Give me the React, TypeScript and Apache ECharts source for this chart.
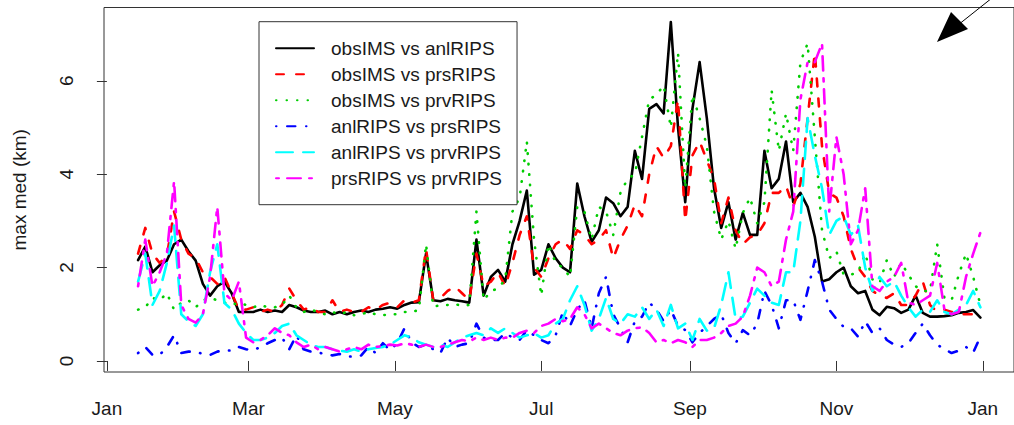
import React, { useEffect, useRef } from "react";
import * as echarts from "echarts";

// sampling days (day of year, 0 = Jan 1)
const days = [
  13, 16, 19, 22, 25, 28, 31, 34, 37, 40,
  43, 46, 49, 52, 55, 58, 61, 64, 67, 70,
  73, 76, 79, 82, 85, 88, 91, 94, 97, 100,
  103, 106, 109, 112, 115, 118, 121, 124, 127, 130,
  133, 136, 139, 142, 145, 148, 151, 154, 157, 160,
  163, 166, 169, 172, 175, 178, 181, 184, 187, 190,
  193, 196, 199, 202, 205, 208, 211, 214, 217, 220,
  223, 226, 229, 232, 235, 238, 241, 244, 247, 250,
  253, 256, 259, 262, 265, 268, 271, 274, 277, 280,
  283, 286, 289, 292, 295, 298, 301, 304, 307, 310,
  313, 316, 319, 322, 325, 328, 331, 334, 337, 340,
  343, 346, 349, 352, 355, 358, 361, 364,
];

const tickDays = [0, 59, 120, 181, 243, 304, 365];
const tickLabels = ["Jan", "Mar", "May", "Jul", "Sep", "Nov", "Jan"];
const yTicks = [0, 2, 4, 6];

const obsAnl = [
  2.16, 2.45, 1.9, 2.05, 2.15, 2.5, 2.6, 2.35, 2.15, 1.65,
  1.4, 1.6, 1.7, 1.45, 1.05, 1.05, 1.05, 1.1, 1.05, 1.08,
  1.05, 1.2, 1.15, 1.08, 1.05, 1.05, 1.08, 1.0, 1.05, 1.0,
  1.05, 1.08, 1.05, 1.1, 1.12, 1.15, 1.12, 1.2, 1.25, 1.26,
  2.3, 1.3, 1.28, 1.33, 1.3, 1.28, 1.25, 2.6, 1.4, 1.8,
  1.95, 1.7, 2.5, 3.0, 3.65, 1.85, 1.95, 2.5, 2.2, 2.0,
  1.9, 3.8, 3.1, 2.55, 2.8, 3.5, 3.38, 3.1, 3.3, 4.5,
  3.9, 5.4, 5.5, 5.3, 7.26, 5.0, 3.4, 5.4, 6.4, 5.2,
  3.7, 2.85, 3.4, 2.6, 3.17, 2.7, 2.7, 4.5, 3.7, 3.9,
  4.7, 3.4, 3.6, 3.3, 2.66, 1.7, 1.75, 1.9, 2.0, 1.6,
  1.45, 1.5, 1.1, 0.98, 1.16, 1.13, 1.03, 1.1, 1.4, 1.03,
  0.95, 0.95, 0.96, 0.98, 1.03, 1.05, 1.09, 0.93,
];

const obsPrs = [
  2.3, 2.85, 2.3, 2.1, 2.25, 3.2, 2.6, 2.3, 2.2, 1.9,
  1.8, 1.65, 1.8, 1.45, 1.1, 1.1, 1.15, 1.05, 1.1, 1.05,
  1.2, 1.55, 1.3, 1.1, 1.15, 1.05, 1.05, 1.3, 1.05, 1.1,
  1.05, 1.05, 1.15, 1.1, 1.2, 1.25, 1.15, 1.3, 1.25, 1.3,
  2.4, 1.3, 1.35, 1.5, 1.6, 1.45, 1.3, 2.3, 1.6, 1.7,
  1.9, 1.6, 2.1, 2.7, 3.1, 2.0, 1.8, 2.2, 2.5, 2.6,
  2.4, 2.8, 2.7, 2.5, 2.6, 2.8, 2.2, 2.6, 2.9, 3.35,
  3.1, 4.0, 4.6, 4.35, 4.6, 5.6, 3.0, 4.4, 4.7, 4.3,
  3.9, 2.95, 3.5, 2.8, 2.5, 2.65, 2.7, 2.95, 3.6, 3.6,
  3.75, 3.3, 3.8, 5.2, 6.6, 4.6, 3.6, 3.5, 3.1, 2.4,
  2.0, 1.8, 1.5, 1.4, 1.35, 1.45, 1.2, 1.2, 1.4, 1.7,
  1.2, 1.05, 1.1, 1.05, 1.0, 1.0, 1.0, 1.05,
];

const obsPrv = [
  1.1, 1.15, 1.35, 1.3, 1.45, 1.1, 1.25, 1.3, 1.15, 1.3,
  1.35, 1.3, 1.25, 1.2, 1.25, 1.2, 1.15, 1.2, 1.15, 1.15,
  1.2, 1.4, 1.15, 1.05, 1.1, 1.05, 1.0, 1.05, 1.0, 1.05,
  0.98, 1.0, 1.05, 1.0, 0.98, 1.0, 1.0, 1.05, 1.05, 1.09,
  2.5, 1.16, 1.2, 1.2, 1.22, 1.18, 1.2, 3.2, 1.3, 1.5,
  1.55, 1.75, 3.2, 3.5, 4.7, 2.6, 1.4, 2.5, 2.1, 2.0,
  1.8, 3.3, 3.2, 2.6, 3.3, 3.2, 2.7, 3.6, 3.9, 4.0,
  4.8, 5.6, 5.7, 5.9, 5.0, 6.6, 3.7, 5.7, 5.2, 4.6,
  3.2, 2.6, 3.0, 2.4, 3.17, 3.5, 2.95, 3.4, 5.8, 4.5,
  5.3, 4.5, 6.4, 6.8, 4.8, 2.8, 2.2, 2.35, 1.85, 1.85,
  1.9, 2.3, 1.75, 1.67, 2.16, 1.8, 2.1, 1.85, 1.6, 1.5,
  1.5, 2.5, 1.35, 1.3, 1.85, 2.3, 1.8, 1.2,
];

const anlPrs = [
  0.17, 0.3, 0.13, 0.13, 0.3, 0.55, 0.17, 0.2, 0.2, 0.15,
  0.13, 0.2, 0.23, 0.22, 0.3, 0.25, 0.23, 0.3, 0.38, 0.45,
  0.5, 0.25, 0.55, 0.25, 0.2, 0.18, 0.15, 0.12, 0.15, 0.1,
  0.09, 0.12, 0.3, 0.17, 0.38, 0.23, 0.38, 0.7, 0.4, 0.3,
  0.35, 0.25, 0.17, 0.5, 0.3, 0.35, 0.38, 0.8, 0.5, 0.45,
  0.45, 0.6, 0.5, 0.45, 0.66, 0.55, 0.45, 0.38, 0.55, 1.05,
  0.75, 1.1, 1.3, 0.7, 1.45, 1.8, 1.0, 0.7, 0.4, 0.85,
  0.95, 1.25, 1.1, 0.85, 1.1, 0.75, 0.66, 0.4, 0.6, 0.75,
  0.9, 1.0, 0.6, 0.38, 0.66, 0.55, 0.8, 1.5, 1.2, 0.7,
  1.3, 1.3, 0.88, 1.5, 2.16, 1.7, 1.1, 0.9, 0.73, 0.7,
  0.52, 0.85, 0.6, 0.7, 0.45, 0.35, 0.3, 0.38, 0.6, 0.8,
  0.55, 0.35, 0.25, 0.17, 0.22, 0.3, 0.18, 0.52,
];

const anlPrv = [
  1.7, 2.3, 1.2, 1.5, 2.1, 2.9, 1.0, 0.85, 0.75, 1.0,
  1.9, 2.5, 1.24, 1.1, 0.8, 0.6, 0.45, 0.45, 0.5, 0.6,
  0.75, 0.8, 0.55, 0.45, 0.35, 0.3, 0.3, 0.25, 0.22, 0.2,
  0.25, 0.2, 0.25, 0.28, 0.3, 0.35, 0.45, 0.55, 0.5, 0.4,
  0.35, 0.3, 0.35, 0.3, 0.4, 0.5, 0.55, 0.6, 0.55, 0.7,
  0.6, 0.7, 0.6, 0.5, 0.55, 0.6, 0.5, 0.55, 0.8, 0.9,
  1.3, 1.6, 1.2, 0.65, 0.9, 1.35, 0.9, 0.8, 1.0, 0.95,
  1.15, 0.9, 1.1, 0.75, 1.2, 0.7, 0.8, 0.45, 0.9, 0.65,
  0.7, 1.2, 1.9, 0.9, 0.95, 1.25, 1.55, 1.4, 1.25, 1.2,
  1.9, 1.9, 3.0, 5.2, 4.4, 3.7, 2.7, 3.0, 3.1, 2.7,
  2.9, 2.0, 1.5, 1.8, 1.6, 1.7, 1.4, 1.15, 0.95, 1.1,
  1.05, 1.3, 1.05, 1.0, 1.1, 1.2, 1.5, 1.15,
];

const prsPrv = [
  1.6, 2.6, 1.6, 1.9, 2.3, 3.85, 1.2, 0.9, 0.82, 1.0,
  1.8, 3.3, 1.45, 1.3, 1.7, 0.5, 0.4, 0.45, 0.55, 0.7,
  0.6, 0.55, 0.4, 0.3, 0.35, 0.25, 0.3, 0.25, 0.2, 0.25,
  0.3, 0.25, 0.35, 0.3, 0.32, 0.35, 0.33, 0.38, 0.35, 0.3,
  0.35, 0.3, 0.3, 0.35, 0.4, 0.45, 0.42, 0.5, 0.45, 0.5,
  0.45, 0.5, 0.5, 0.6, 0.65, 0.6, 0.75, 0.8, 0.9, 0.85,
  0.9, 1.15, 1.0, 0.7, 0.8, 0.7, 0.6, 0.55, 0.65, 0.7,
  0.72, 0.6, 0.4, 0.45, 0.38, 0.45, 0.4, 0.3, 0.45, 0.45,
  0.5, 0.6, 0.75, 0.8, 0.95, 1.4, 2.0, 1.9, 1.6, 1.7,
  2.6, 3.2, 5.6, 6.4, 6.4, 6.8, 3.2, 4.8, 4.0, 2.5,
  2.8, 3.7, 1.6, 1.5, 1.7, 1.8, 2.1, 1.25, 1.2, 1.3,
  1.4, 2.1, 1.1, 1.0, 1.05, 1.8, 2.3, 2.75,
];

const seriesNames = [
  "obsIMS vs anlRIPS",
  "obsIMS vs prsRIPS",
  "obsIMS vs prvRIPS",
  "anlRIPS vs prsRIPS",
  "anlRIPS vs prvRIPS",
  "prsRIPS vs prvRIPS",
];
const seriesValues = [obsAnl, obsPrs, obsPrv, anlPrs, anlPrv, prsPrv];
const seriesColors = ["#000000", "#ff0000", "#00cd00", "#0000ff", "#00ffff", "#ff00ff"];
const seriesDash: any[] = [
  "solid",
  [8, 12],
  [0.5, 10],
  [0.5, 10.5, 8.5, 10.5],
  [17, 10],
  [3, 8, 14, 8],
];

const FONT = "'Liberation Sans', Arial, Helvetica, sans-serif";

export default function App() {
  const ref = useRef<HTMLDivElement>(null);
  useEffect(() => {
    if (!ref.current) return;
    const chart = echarts.init(ref.current, undefined, { renderer: "svg" });
    const series = seriesNames.map((name, k) => ({
      name,
      type: "line",
      data: days.map((d, i) => [d, seriesValues[k][i]]),
      symbol: "none",
      showSymbol: false,
      silent: true,
      lineStyle: {
        color: seriesColors[k],
        width: 2.6,
        type: seriesDash[k],
        cap: "round",
        join: "round",
      },
      itemStyle: { color: seriesColors[k] },
    }));
    chart.setOption({
      animation: false,
      backgroundColor: "#ffffff",
      textStyle: { fontFamily: FONT },
      grid: {
        left: 104,
        right: -6,
        top: 7.5,
        bottom: 53,
        show: true,
        borderColor: "#333",
        borderWidth: 1,
        backgroundColor: "transparent",
        containLabel: false,
      },
      xAxis: {
        type: "value",
        min: -1.2,
        max: 378,
        splitLine: { show: false },
        axisLine: { show: false },
        axisTick: {
          show: true,
          customValues: tickDays,
          length: 10,
          lineStyle: { color: "#333", width: 1 },
        },
        axisLabel: {
          show: true,
          customValues: tickDays,
          margin: 27,
          fontSize: 19,
          color: "#1a1a1a",
          fontFamily: FONT,
          showMinLabel: true,
          showMaxLabel: true,
          hideOverlap: false,
          formatter: (v: number) => {
            const i = tickDays.indexOf(Math.round(v));
            return i >= 0 ? tickLabels[i] : "";
          },
        },
      },
      yAxis: {
        type: "value",
        min: -0.236,
        max: 7.57,
        name: "max med (km)",
        nameLocation: "middle",
        nameRotate: 90,
        nameGap: 75,
        nameTextStyle: { fontSize: 19, color: "#1a1a1a", fontFamily: FONT },
        splitLine: { show: false },
        axisLine: { show: false },
        axisTick: {
          show: true,
          customValues: yTicks,
          length: 10,
          lineStyle: { color: "#333", width: 1 },
        },
        axisLabel: {
          show: true,
          customValues: yTicks,
          rotate: 90,
          margin: 28,
          fontSize: 19,
          color: "#1a1a1a",
          fontFamily: FONT,
          formatter: (v: number) => String(Math.round(v)),
        },
      },
      legend: {
        show: true,
        orient: "vertical",
        left: 259,
        top: 21.7,
        data: seriesNames,
        itemWidth: 38,
        itemHeight: 14,
        itemGap: 7,
        padding: [17, 15, 17, 16],
        borderColor: "#333",
        borderWidth: 1,
        backgroundColor: "#ffffff",
        selectedMode: false,
        itemStyle: { opacity: 0, borderWidth: 0, color: "transparent" },
        textStyle: {
          fontSize: 19,
          color: "#1a1a1a",
          fontFamily: FONT,
          padding: [0, 0, 0, 12],
        },
      },
      graphic: [
        {
          type: "line",
          shape: { x1: 992, y1: -2, x2: 958, y2: 25 },
          style: { stroke: "#000", lineWidth: 1 },
          silent: true,
        },
        {
          type: "polygon",
          shape: { points: [[937, 42], [951, 12], [968, 29]] },
          style: { fill: "#000" },
          silent: true,
        },
      ],
      series,
    });
    return () => chart.dispose();
  }, []);
  return (
    <div
      ref={ref}
      style={{ position: "absolute", left: 0, top: 0, width: 1014, height: 425, background: "#fff" }}
    />
  );
}
